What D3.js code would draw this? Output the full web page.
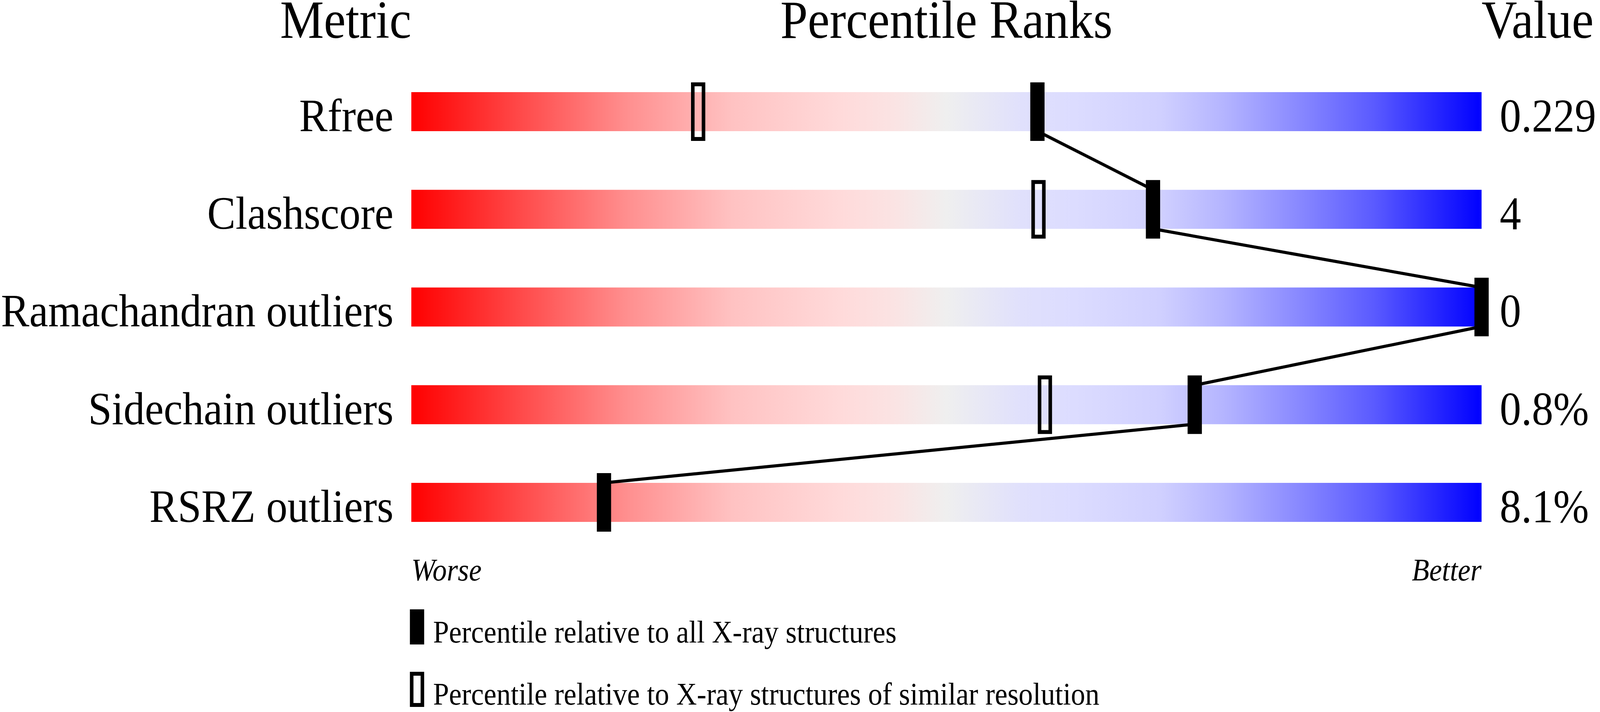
<!DOCTYPE html>
<html>
<head>
<meta charset="utf-8">
<script src="https://cdn.jsdelivr.net/npm/d3@7"></script>
<style>
  html, body { margin: 0; padding: 0; background: #fff; overflow: hidden; }
  #chart svg { display: block; width: 100vw; height: 100vh; }
  text { font-family: "Liberation Serif", "Times New Roman", serif; fill: #000; }
</style>
</head>
<body>
<div id="chart"></div>
<script>
// chart data
const metrics = ["Rfree", "Clashscore", "Ramachandran outliers", "Sidechain outliers", "RSRZ outliers"];
const valueLabels = ["0.229", "4", "0", "0.8%", "8.1%"];
const pctAll = [58.5, 69.3, 100, 73.2, 18.0];        // filled markers
const pctSimilar = [26.8, 58.6, null, 59.2, null];   // open markers
const headers = ["Metric", "Percentile Ranks", "Value"];
const legendLabels = [
  "Percentile relative to all X-ray structures",
  "Percentile relative to X-ray structures of similar resolution"
];

const width = 4485, height = 1824;
const barH = 100, markW = 40, markH = 150;

// drawing space is 4485x1824 and is stretched over the whole window
var svg = d3.select("#chart")
  .append("svg")
  .attr("viewBox", `0 0 ${width} ${height}`)
  .attr("preserveAspectRatio", "none");

var x = d3.scaleLinear()
  .domain([0, 100])
  .range([1153, 4153]);

var y = d3.scalePoint()
  .domain(metrics)
  .range([236, 1237]);

// gradient red -> grey -> blue
var grad = svg.append("defs")
  .append("linearGradient")
  .attr("id", "slider")
  .attr("x1", "0%").attr("x2", "100%")
  .attr("y1", "0%").attr("y2", "0%");

const stops = [
  [0, "#ff0000"], [0.1, "#ff4848"], [0.2, "#ff8e8e"], [0.3, "#ffc2c2"],
  [0.4, "#ffdada"], [0.45, "#fbe3e3"], [0.5, "#efefef"], [0.57, "#e0e0fc"],
  [0.62, "#dcdcff"], [0.7, "#d0d0ff"], [0.76, "#b4b4ff"], [0.83, "#8888ff"],
  [0.9, "#5a5aff"], [1, "#0000ff"]
];
grad.selectAll("stop")
  .data(stops)
  .enter()
  .append("stop")
  .attr("offset", d => d[0])
  .attr("stop-color", d => d[1]);

// headers
svg.append("text")
  .attr("x", x(0)).attr("y", 97)
  .attr("text-anchor", "end")
  .style("font-size", "138px")
  .text(headers[0]);

svg.append("text")
  .attr("x", x(50)).attr("y", 97)
  .attr("text-anchor", "middle")
  .style("font-size", "138px")
  .text(headers[1]);

svg.append("text")
  .attr("x", x(100)).attr("y", 97)
  .attr("text-anchor", "start")
  .style("font-size", "138px")
  .text(headers[2]);

// bars
svg.selectAll("rect.bar")
  .data(metrics)
  .enter()
  .append("rect")
  .attr("class", "bar")
  .attr("x", x(0))
  .attr("y", d => y(d))
  .attr("width", x(100) - x(0))
  .attr("height", barH)
  .attr("fill", "url(#slider)");

// row labels
svg.selectAll("text.metric")
  .data(metrics)
  .enter()
  .append("text")
  .attr("class", "metric")
  .attr("x", x(0) - 50)
  .attr("y", d => y(d) + barH)
  .attr("text-anchor", "end")
  .style("font-size", "119px")
  .text(d => d);

// values
svg.selectAll("text.value")
  .data(valueLabels)
  .enter()
  .append("text")
  .attr("class", "value")
  .attr("x", x(100) + 51)
  .attr("y", (d, i) => y(metrics[i]) + barH + 1)
  .style("font-size", "120px")
  .text(d => d);

// connecting line between filled markers
var segs = d3.pairs(pctAll.map((p, i) => ({ p: p, m: metrics[i] })));
svg.selectAll("line.link")
  .data(segs)
  .enter()
  .append("line")
  .attr("class", "link")
  .attr("x1", d => x(d[0].p))
  .attr("y1", d => y(d[0].m) + barH)
  .attr("x2", d => x(d[1].p))
  .attr("y2", d => y(d[1].m))
  .attr("stroke", "#000")
  .attr("stroke-width", 8);

// open markers (similar resolution)
svg.selectAll("rect.open")
  .data(pctSimilar.map((p, i) => ({ p: p, m: metrics[i] })).filter(d => d.p != null))
  .enter()
  .append("rect")
  .attr("class", "open")
  .attr("x", d => x(d.p) - markW / 2 + 5)
  .attr("y", d => y(d.m) - 25 + 5)
  .attr("width", markW - 10)
  .attr("height", markH - 10)
  .attr("fill", "none")
  .attr("stroke", "#000")
  .attr("stroke-width", 10);

// filled markers (all structures)
svg.selectAll("rect.filled")
  .data(pctAll.map((p, i) => ({ p: p, m: metrics[i] })))
  .enter()
  .append("rect")
  .attr("class", "filled")
  .attr("x", d => x(d.p) - markW / 2)
  .attr("y", d => y(d.m) - 25)
  .attr("width", markW)
  .attr("height", markH)
  .attr("fill", "#000");

// worse / better
svg.append("text")
  .attr("x", x(0)).attr("y", 1487)
  .style("font-size", "80px")
  .style("font-style", "italic")
  .text("Worse");

svg.append("text")
  .attr("x", x(100)).attr("y", 1487)
  .attr("text-anchor", "end")
  .style("font-size", "80px")
  .style("font-style", "italic")
  .text("Better");

// legend
var leg = svg.append("g").attr("transform", "translate(1149,1561)");

leg.append("rect")
  .attr("width", 40).attr("height", 90)
  .attr("fill", "#000");

leg.append("rect")
  .attr("x", 5).attr("y", 165)
  .attr("width", 30).attr("height", 80)
  .attr("fill", "none")
  .attr("stroke", "#000")
  .attr("stroke-width", 10);

leg.selectAll("text")
  .data(legendLabels)
  .enter()
  .append("text")
  .attr("x", 65)
  .attr("y", (d, i) => 85 + i * 159)
  .style("font-size", "80px")
  .text(d => d);
</script>
</body>
</html>
